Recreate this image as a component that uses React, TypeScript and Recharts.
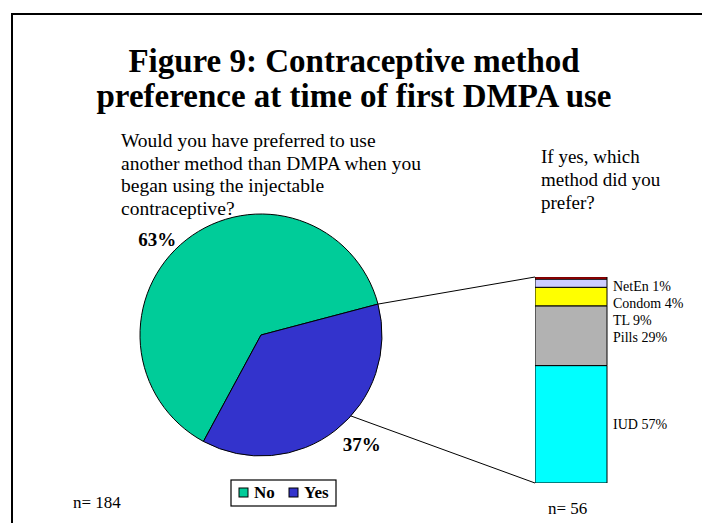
import React from 'react';
import { PieChart, Pie, Cell, BarChart, Bar, XAxis, YAxis, LabelList } from 'recharts';

// Survey answers: would the respondent have preferred another method than DMPA?
const answerNames = ['No', 'Yes'];
const answerShares = [63, 37];
const answerColors = ['#00CC99', '#3333CC'];

// Method preferred by those who answered "Yes" (bottom to top of the column)
const methodNames = ['IUD', 'Pills', 'TL', 'Condom', 'NetEn'];
const methodShares = [57, 29, 9, 4, 1];
const methodColors = ['#00FFFF', '#B2B2B2', '#FFFF00', '#CCCCFF', '#FF0000'];

const titleLines = ['Figure 9: Contraceptive method', 'preference at time of first DMPA use'];
const questionLines = [
  'Would you have preferred to use',
  'another method than DMPA when you',
  'began using the injectable',
  'contraceptive?',
];
const followUpLines = ['If yes, which', 'method did you', 'prefer?'];
const pieSampleLabel = 'n= 184';
const barSampleLabel = 'n= 56';

// Layout
const W = 702;
const H = 515;
const FONT = '"Liberation Serif", "Times New Roman", serif';
const PIE_CX = 253;
const PIE_CY = 327;
const PIE_R = 121;
const START_ANGLE = 14.8;
const LOW_LINK_ANGLE = -42;
const BAR_LEFT = 527;
const BAR_TOP = 269;
const BAR_W = 72;
const BAR_H = 206;
const LABEL_ROOM = 110;
const LABEL_GAP = 17;
const RAD = Math.PI / 180;

const answerData = answerNames.map((name, i) => ({ name, value: answerShares[i] }));
const methodRow: Record<string, number | string> = { group: 'Yes' };
methodNames.forEach((m, i) => {
  methodRow[m] = methodShares[i];
});
const methodData = [methodRow];

// Percentages sit just outside the rim, hanging below the point on the
// slice's middle ray.
const renderPieLabel = (props: any) => {
  const { cx, cy, midAngle, outerRadius, value } = props;
  const r = outerRadius + 8;
  const c = Math.cos(-midAngle * RAD);
  const s = Math.sin(-midAngle * RAD);
  const x = cx + (r + (c < 0 ? 8 : 3)) * c;
  const y = cy + (r + 1) * s;
  return (
    <text
      x={x}
      y={y}
      textAnchor={c >= 0 ? 'start' : 'end'}
      dominantBaseline="hanging"
      fontFamily={FONT}
      fontWeight="bold"
      fontSize={19}
      fill="#000"
    >
      {`${value}%`}
    </text>
  );
};

// Segment labels sit beside the column; they are pushed apart so the thin
// top segments stay readable.
const makeMethodLabel = (idx: number) => (props: any) => {
  const { x, y, width, height } = props;
  const segTop = Math.min(y, y + height);
  const pxPerUnit = Math.abs(height) / methodShares[idx];
  const above = methodShares.slice(idx + 1).reduce((a, b) => a + b, 0);
  const top = segTop - above * pxPerUnit;
  let cursor = top;
  let prev = -Infinity;
  let pos = 0;
  for (let i = methodShares.length - 1; i >= 0; i--) {
    const h = methodShares[i] * pxPerUnit;
    const centre = cursor + h / 2;
    cursor += h;
    const placed = Math.max(centre, prev + LABEL_GAP, top + 9);
    prev = placed;
    if (i === idx) pos = placed;
  }
  return (
    <text
      x={x + width + 6}
      y={pos}
      dominantBaseline="central"
      fontFamily={FONT}
      fontSize={14}
      fill="#000"
    >
      {`${methodNames[idx]} ${methodShares[idx]}%`}
    </text>
  );
};

export default function App() {
  const upX = PIE_CX + PIE_R * Math.cos(START_ANGLE * RAD);
  const upY = PIE_CY - PIE_R * Math.sin(START_ANGLE * RAD);
  const lowX = PIE_CX + PIE_R * Math.cos(LOW_LINK_ANGLE * RAD);
  const lowY = PIE_CY - PIE_R * Math.sin(LOW_LINK_ANGLE * RAD);

  return (
    <div style={{ position: 'relative', width: W, height: H, background: '#fff' }}>
      <div style={{ position: 'absolute', left: 0, top: 0 }}>
        <PieChart width={W} height={H} margin={{ top: 0, right: 0, bottom: 0, left: 0 }}>
          <Pie
            data={answerData}
            dataKey="value"
            nameKey="name"
            cx={PIE_CX}
            cy={PIE_CY}
            outerRadius={PIE_R}
            startAngle={START_ANGLE}
            endAngle={START_ANGLE + 360}
            stroke="#000"
            strokeWidth={1}
            label={renderPieLabel}
            labelLine={false}
            isAnimationActive={false}
          >
            {answerData.map((d, i) => (
              <Cell key={d.name} fill={answerColors[i]} />
            ))}
          </Pie>
        </PieChart>
      </div>

      <div style={{ position: 'absolute', left: BAR_LEFT, top: BAR_TOP }}>
        <BarChart
          width={BAR_W + LABEL_ROOM}
          height={BAR_H}
          data={methodData}
          margin={{ top: 0, right: LABEL_ROOM, bottom: 0, left: 0 }}
          barCategoryGap={0}
        >
          <XAxis dataKey="group" hide />
          <YAxis type="number" domain={[0, 100]} hide />
          {methodNames.map((m, i) => (
            <Bar
              key={m}
              dataKey={m}
              stackId="pref"
              fill={methodColors[i]}
              stroke="#000"
              strokeWidth={1}
              isAnimationActive={false}
            >
              <LabelList dataKey={m} content={makeMethodLabel(i)} />
            </Bar>
          ))}
        </BarChart>
      </div>

      <svg
        width={W}
        height={H}
        style={{ position: 'absolute', left: 0, top: 0, pointerEvents: 'none' }}
      >
        {/* frame */}
        <line x1={4} y1={6} x2={W} y2={6} stroke="#000" strokeWidth={2} />
        <line x1={4} y1={5} x2={4} y2={H} stroke="#000" strokeWidth={2} />

        {titleLines.map((t, i) => (
          <text
            key={t}
            x={346}
            y={64 + i * 35}
            textAnchor="middle"
            fontFamily={FONT}
            fontWeight="bold"
            fontSize={33}
            fill="#000"
          >
            {t}
          </text>
        ))}

        {questionLines.map((t, i) => (
          <text key={t} x={113} y={139 + i * 22.7} fontFamily={FONT} fontSize={19.5} fill="#000">
            {t}
          </text>
        ))}

        {followUpLines.map((t, i) => (
          <text key={t} x={533} y={155 + i * 23} fontFamily={FONT} fontSize={19} fill="#000">
            {t}
          </text>
        ))}

        <text x={65} y={500} fontFamily={FONT} fontSize={17} fill="#000">
          {pieSampleLabel}
        </text>
        <text x={540} y={506} fontFamily={FONT} fontSize={17} fill="#000">
          {barSampleLabel}
        </text>

        {/* connectors from the "Yes" slice to the breakdown column */}
        <line x1={upX} y1={upY} x2={BAR_LEFT} y2={BAR_TOP} stroke="#000" strokeWidth={1} />
        <line x1={lowX} y1={lowY} x2={BAR_LEFT} y2={BAR_TOP + BAR_H} stroke="#000" strokeWidth={1} />

        {/* legend */}
        <rect x={223} y={472} width={105} height={26} fill="#fff" stroke="#000" strokeWidth={1.2} />
        {answerNames.map((n, i) => (
          <g key={n}>
            <rect
              x={231 + i * 50}
              y={480}
              width={9}
              height={9}
              fill={answerColors[i]}
              stroke="#000"
              strokeWidth={1}
            />
            <text
              x={246 + i * 50}
              y={490}
              fontFamily={FONT}
              fontWeight="bold"
              fontSize={17}
              fill="#000"
            >
              {n}
            </text>
          </g>
        ))}
      </svg>
    </div>
  );
}
